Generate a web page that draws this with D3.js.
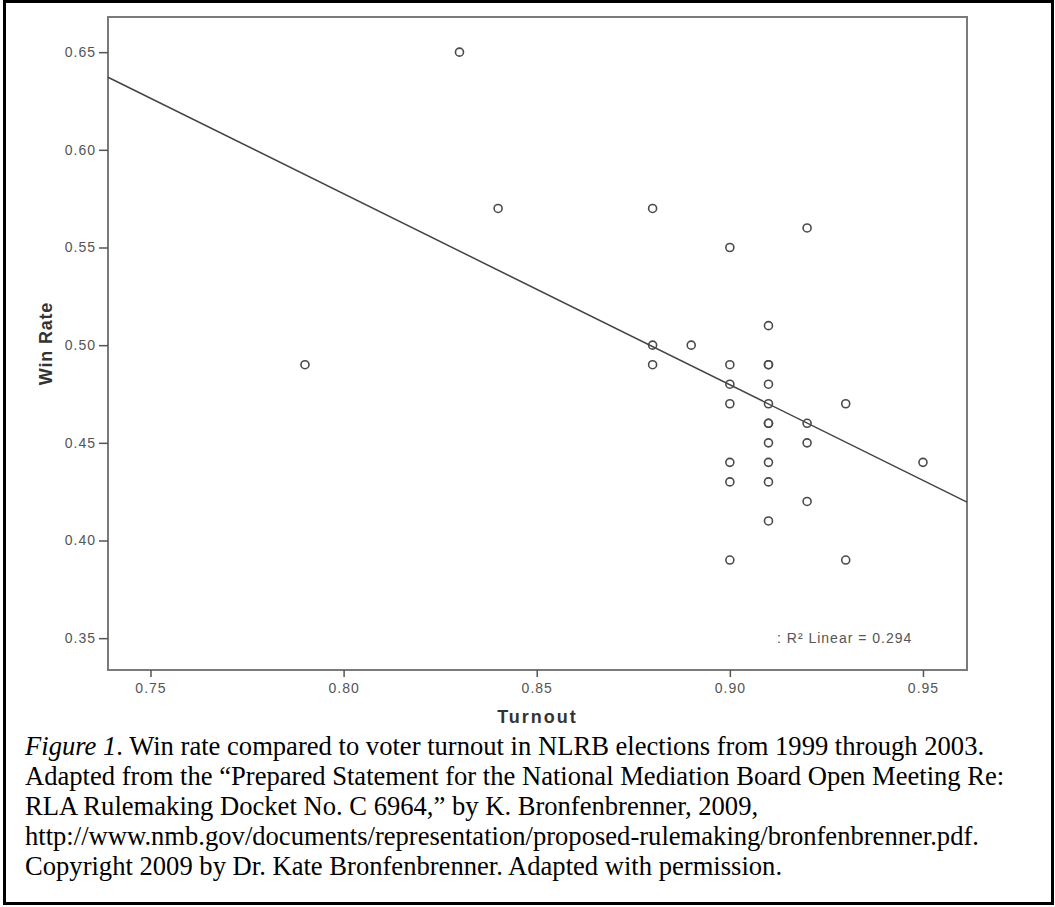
<!DOCTYPE html>
<html>
<head>
<meta charset="utf-8">
<script src="https://d3js.org/d3.v7.min.js"></script>
<style>
  body { margin: 0; background: #fff; }
  svg { display: block; }
  .tick-label { font-family: Arial, "Liberation Sans", sans-serif; font-size: 14px; fill: #555; letter-spacing: 1px; }
  .axis-title { font-family: Arial, "Liberation Sans", sans-serif; font-size: 18px; font-weight: bold; fill: #333; }
  .caption { font-family: "Times New Roman", "Liberation Serif", serif; font-size: 26.6px; fill: #000; }
</style>
</head>
<body>
<div id="chart"></div>
<script>
// values
var turnout = [0.83, 0.84, 0.88, 0.92, 0.90, 0.91, 0.79, 0.88, 0.89, 0.88,
               0.90, 0.91, 0.91, 0.90, 0.91, 0.90, 0.91, 0.93, 0.91, 0.91,
               0.92, 0.91, 0.92, 0.90, 0.91, 0.95, 0.90, 0.91, 0.92, 0.91,
               0.90, 0.93];
var winRate = [0.65, 0.57, 0.57, 0.56, 0.55, 0.51, 0.49, 0.50, 0.50, 0.49,
               0.49, 0.49, 0.49, 0.48, 0.48, 0.47, 0.47, 0.47, 0.46, 0.46,
               0.46, 0.45, 0.45, 0.44, 0.44, 0.44, 0.43, 0.43, 0.42, 0.41,
               0.39, 0.39];
var xTicks = [0.75, 0.80, 0.85, 0.90, 0.95];
var yTicks = [0.35, 0.40, 0.45, 0.50, 0.55, 0.60, 0.65];
var xDomain = [0.739, 0.9614];
var yDomain = [0.3337, 0.668];
// linear fit  y = a + b*x
var fitA = 1.3599, fitB = -0.978;
var fitLabel = 'R² Linear = 0.294';
var captionLines = [
  [['Figure 1', true], ['. Win rate compared to voter turnout in NLRB elections from 1999 through 2003.', false]],
  [['Adapted from the \u201cPrepared Statement for the National Mediation Board Open Meeting Re:', false]],
  [['RLA Rulemaking Docket No. C 6964,\u201d by K. Bronfenbrenner, 2009,', false]],
  [['http://www.nmb.gov/documents/representation/proposed-rulemaking/bronfenbrenner.pdf.', false]],
  [['Copyright 2009 by Dr. Kate Bronfenbrenner. Adapted with permission.', false]]
];

var width = 1055, height = 907;
var plot = {left: 108, right: 967, top: 17, bottom: 670};

var svg = d3.select('#chart').append('svg')
  .attr('width', width)
  .attr('height', height);

svg.append('rect')
  .attr('x', 4.5).attr('y', 1.5)
  .attr('width', 1048).attr('height', 902)
  .attr('fill', 'none')
  .attr('stroke', '#000')
  .attr('stroke-width', 3);

var x = d3.scaleLinear().domain(xDomain).range([plot.left, plot.right]);
var y = d3.scaleLinear().domain(yDomain).range([plot.bottom, plot.top]);

// frame
svg.append('rect')
  .attr('x', plot.left).attr('y', plot.top)
  .attr('width', plot.right - plot.left)
  .attr('height', plot.bottom - plot.top)
  .attr('fill', 'none')
  .attr('stroke', '#7a7a7a')
  .attr('stroke-width', 2);

var xAxis = svg.append('g')
  .attr('transform', 'translate(0,' + plot.bottom + ')')
  .call(d3.axisBottom(x).tickValues(xTicks).tickSize(7).tickPadding(6).tickFormat(d3.format('.2f')));
var yAxis = svg.append('g')
  .attr('transform', 'translate(' + plot.left + ',0)')
  .call(d3.axisLeft(y).tickValues(yTicks).tickSize(9).tickPadding(3).tickFormat(d3.format('.2f')));

[xAxis, yAxis].forEach(function(g){
  g.select('.domain').remove();
  g.selectAll('line').attr('stroke', '#555').attr('stroke-width', 1.5);
  g.selectAll('text').attr('class', 'tick-label').attr('font-family', null).attr('font-size', null);
});

// regression line
svg.append('line')
  .attr('x1', x(xDomain[0])).attr('y1', y(fitA + fitB * xDomain[0]))
  .attr('x2', x(xDomain[1])).attr('y2', y(fitA + fitB * xDomain[1]))
  .attr('stroke', '#444')
  .attr('stroke-width', 1.5);

// points
svg.selectAll('circle.pt')
  .data(d3.range(turnout.length))
  .enter().append('circle')
  .attr('class', 'pt')
  .attr('cx', function(i){ return x(turnout[i]) })
  .attr('cy', function(i){ return y(winRate[i]) })
  .attr('r', 4)
  .attr('fill', 'none')
  .attr('stroke', '#4a4a4a')
  .attr('stroke-width', 1.6);

// fit label
svg.append('text')
  .attr('class', 'tick-label')
  .attr('x', 777).attr('y', 643)
  .text(': ' + fitLabel);

svg.append('text')
  .attr('class', 'axis-title')
  .attr('x', (plot.left + plot.right) / 2).attr('y', 723)
  .attr('text-anchor', 'middle')
  .style('letter-spacing', '2px')
  .text('Turnout');

svg.append('text')
  .attr('class', 'axis-title')
  .attr('transform', 'translate(52,' + (plot.top + plot.bottom) / 2 + ') rotate(-90)')
  .attr('text-anchor', 'middle')
  .style('letter-spacing', '0.8px')
  .text('Win Rate');

// caption
var cap = svg.append('text').attr('class', 'caption');
captionLines.forEach(function(parts, i){
  parts.forEach(function(p, j){
    var t = cap.append('tspan').text(p[0]);
    if (j === 0) t.attr('x', 25).attr('y', 755 + i * 30);
    if (p[1]) t.attr('font-style', 'italic');
  });
});
</script>
</body>
</html>
